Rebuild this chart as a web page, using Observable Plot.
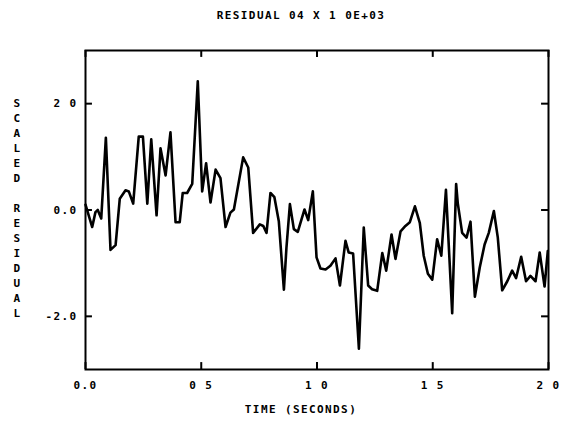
<!DOCTYPE html>
<html>
<head>
<meta charset="utf-8">
<script src="https://cdn.jsdelivr.net/npm/d3@7"></script>
<script src="https://cdn.jsdelivr.net/npm/@observablehq/plot@0.6"></script>
<style>
  html, body { margin: 0; padding: 0; background: #fff; }
  #chart svg { display: block; }
</style>
</head>
<body>
<div id="chart"></div>
<script>
// ---- data ----
const titleText = "RESIDUAL 04 X 1 0E+03";
const xLabel = "TIME (SECONDS)";
const yLabel = "SCALED RESIDUAL";

const xTicks = [0, 0.5, 1, 1.5, 2];
const xTickLabels = ["0.0", "0 5", "1 0", "1 5", "2 0"];
const yTicks = [2, 0, -2];
const yTickLabels = ["2 0", "0.0", "-2.0"];

const time = [
  0.000, 0.029, 0.043, 0.053, 0.068, 0.088, 0.108, 0.130, 0.148, 0.173,
  0.187, 0.206, 0.230, 0.248, 0.267, 0.284, 0.307, 0.324, 0.346, 0.367,
  0.389, 0.407, 0.420, 0.439, 0.461, 0.485, 0.504, 0.521, 0.540, 0.562,
  0.583, 0.605, 0.626, 0.641, 0.681, 0.703, 0.724, 0.753, 0.768, 0.782,
  0.799, 0.816, 0.835, 0.857, 0.868, 0.883, 0.900, 0.917, 0.946, 0.962,
  0.982, 0.998, 1.015, 1.037, 1.058, 1.080, 1.099, 1.123, 1.137, 1.156,
  1.181, 1.202, 1.221, 1.238, 1.260, 1.282, 1.299, 1.322, 1.339, 1.361,
  1.382, 1.401, 1.423, 1.444, 1.461, 1.479, 1.498, 1.519, 1.537, 1.557,
  1.584, 1.601, 1.608, 1.627, 1.646, 1.663, 1.682, 1.703, 1.724, 1.742,
  1.764, 1.781, 1.800, 1.822, 1.843, 1.860, 1.882, 1.903, 1.922, 1.944,
  1.962, 1.983, 1.997
];
const residual = [
  0.10, -0.32, -0.04, 0.00, -0.16, 1.36, -0.75, -0.66, 0.21, 0.37,
  0.35, 0.12, 1.38, 1.38, 0.12, 1.33, -0.10, 1.16, 0.65, 1.46,
  -0.23, -0.23, 0.32, 0.32, 0.49, 2.42, 0.35, 0.88, 0.14, 0.76,
  0.60, -0.32, -0.05, 0.01, 0.99, 0.80, -0.43, -0.27, -0.30, -0.43,
  0.32, 0.24, -0.21, -1.50, -0.71, 0.11, -0.36, -0.41, 0.01, -0.19,
  0.35, -0.89, -1.10, -1.12, -1.05, -0.91, -1.42, -0.58, -0.80, -0.82,
  -2.61, -0.33, -1.42, -1.49, -1.52, -0.81, -1.14, -0.46, -0.92, -0.40,
  -0.30, -0.23, 0.07, -0.24, -0.86, -1.20, -1.31, -0.55, -0.86, 0.38,
  -1.94, 0.49, 0.13, -0.43, -0.52, -0.22, -1.63, -1.08, -0.65, -0.43,
  -0.02, -0.52, -1.51, -1.34, -1.14, -1.28, -0.88, -1.34, -1.24, -1.34,
  -0.80, -1.44, -0.77
];

const series = time.map((t, i) => ({t, r: residual[i]}));

const font = "'DejaVu Sans Mono', monospace";
const tickLenY = 0.13;  // data units (~7px)
const tickLenX = 0.03;  // data units (~7px)

const plot = Plot.plot({
  width: 578,
  height: 422,
  marginLeft: 85,
  marginRight: 30,
  marginTop: 50,
  marginBottom: 53,
  style: {fontFamily: font, fontWeight: "bold", fontSize: "11px", background: "#fff", color: "#000"},
  x: {domain: [0, 2], axis: null},
  y: {domain: [-3, 3], axis: null},
  marks: [
    Plot.frame({stroke: "#000", strokeWidth: 2}),
    // inward ticks: bottom and top
    Plot.ruleX(xTicks, {x: d => d, y1: -3, y2: -3 + tickLenY, stroke: "#000", strokeWidth: 2}),
    Plot.ruleX(xTicks, {x: d => d, y1: 3, y2: 3 - tickLenY, stroke: "#000", strokeWidth: 2}),
    // inward ticks: left and right
    Plot.ruleY(yTicks, {y: d => d, x1: 0, x2: tickLenX, stroke: "#000", strokeWidth: 2}),
    Plot.ruleY(yTicks, {y: d => d, x1: 2, x2: 2 - tickLenX, stroke: "#000", strokeWidth: 2}),
    // data line
    Plot.line(series, {x: "t", y: "r", stroke: "#000", strokeWidth: 2.6, strokeLinejoin: "round"}),
    // tick labels
    Plot.text(xTicks, {x: d => d, text: (d, i) => xTickLabels[i], frameAnchor: "bottom", dy: 16,
      lineAnchor: "middle", fontWeight: "bold", fontSize: 11, fill: "#000", style: "letter-spacing:1.4px"}),
    Plot.text(yTicks, {y: d => d, text: (d, i) => yTickLabels[i], frameAnchor: "left", dx: -8,
      textAnchor: "end", lineAnchor: "middle", fontWeight: "bold", fontSize: 11, fill: "#000"}),
    // title
    Plot.text([titleText], {text: d => d, frameAnchor: "top", dy: -35, dx: -16,
      lineAnchor: "middle", fontWeight: "bold", fontSize: 11, fill: "#000"}),
    // x label
    Plot.text([xLabel], {text: d => d, frameAnchor: "bottom", dy: 40, dx: -16,
      lineAnchor: "middle", fontWeight: "bold", fontSize: 11, fill: "#000"}),
    // y label, stacked letters
    Plot.text([yLabel.split("").join("\n")], {text: d => d, frameAnchor: "left", dx: -68, dy: -3,
      lineAnchor: "middle", textAnchor: "middle", lineHeight: 1.36, fontWeight: "bold", fontSize: 11, fill: "#000"})
  ]
});

// letter spacing for the plotter-like text
plot.querySelectorAll("text").forEach(t => t.setAttribute("letter-spacing", "1.4"));
document.getElementById("chart").appendChild(plot);
</script>
</body>
</html>
